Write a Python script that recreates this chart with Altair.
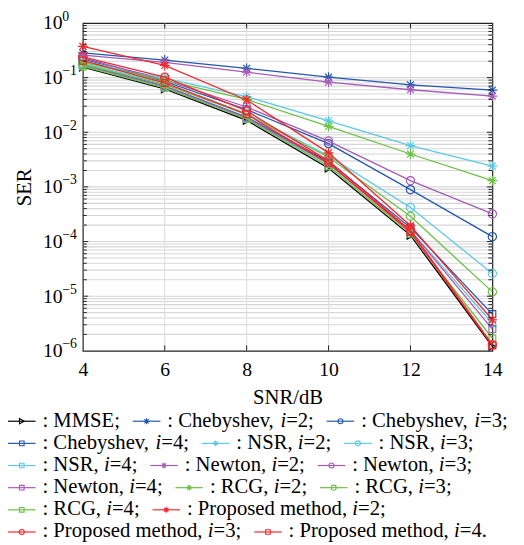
import altair as alt
import pandas as pd

# ---------------- data ----------------
snr = [4, 6, 8, 10, 12, 14]

methods = ["MMSE",
           "Chebyshev", "Chebyshev", "Chebyshev",
           "NSR", "NSR", "NSR",
           "Newton", "Newton", "Newton",
           "RCG", "RCG", "RCG",
           "Proposed method", "Proposed method", "Proposed method"]
iters = [0, 2, 3, 4, 2, 3, 4, 2, 3, 4, 2, 3, 4, 2, 3, 4]

ser_mmse    = [0.155, 0.062, 0.0165, 0.0022, 0.00013, 1.2e-6]
ser_cheb2   = [0.284, 0.21, 0.148, 0.102, 0.074, 0.059]
ser_cheb3   = [0.22, 0.085, 0.026, 0.0062, 0.00089, 0.000123]
ser_cheb4   = [0.175, 0.07, 0.019, 0.0029, 0.00018, 4.7e-6]
ser_nsr2    = [0.2, 0.098, 0.045, 0.0162, 0.0057, 0.0024]
ser_nsr3    = [0.18, 0.08, 0.022, 0.0037, 0.00042, 2.6e-5]
ser_nsr4    = [0.165, 0.068, 0.018, 0.0026, 0.00016, 3.2e-6]
ser_newton2 = [0.257, 0.19, 0.126, 0.083, 0.06, 0.046]
ser_newton3 = [0.23, 0.09, 0.029, 0.0069, 0.0013, 0.00032]
ser_newton4 = [0.17, 0.069, 0.0185, 0.0027, 0.00016, 2.5e-6]
ser_rcg2    = [0.19, 0.09, 0.04, 0.0128, 0.004, 0.0013]
ser_rcg3    = [0.175, 0.075, 0.021, 0.0035, 0.00029, 1.2e-5]
ser_rcg4    = [0.16, 0.065, 0.0175, 0.0024, 0.00014, 1.7e-6]
ser_prop2   = [0.374, 0.167, 0.039, 0.0042, 0.000195, 3.7e-6]
ser_prop3   = [0.241, 0.102, 0.0246, 0.003, 0.00016, 1.3e-6]
ser_prop4   = [0.204, 0.08, 0.0214, 0.0027, 0.00015, 1.25e-6]

series_values = [ser_mmse, ser_cheb2, ser_cheb3, ser_cheb4,
                 ser_nsr2, ser_nsr3, ser_nsr4,
                 ser_newton2, ser_newton3, ser_newton4,
                 ser_rcg2, ser_rcg3, ser_rcg4,
                 ser_prop2, ser_prop3, ser_prop4]

x_ticks = [4, 6, 8, 10, 12, 14]
y_decades = [1, 1e-1, 1e-2, 1e-3, 1e-4, 1e-5, 1e-6]
y_exponents = ["0", "\u22121", "\u22122", "\u22123", "\u22124", "\u22125", "\u22126"]

legend_rows = [[0, 1, 2], [3, 4, 5], [6, 7, 8], [9, 10, 11], [12, 13], [14, 15]]

# ---------------- styles ----------------
method_color = {"MMSE": "#000000", "Chebyshev": "#2457ad", "NSR": "#5ccae4",
                "Newton": "#a55cb6", "RCG": "#6bc046", "Proposed method": "#f2282c"}
STAR = "M-1,0L1,0M0,-1L0,1M-0.7,-0.7L0.7,0.7M-0.7,0.7L0.7,-0.7"
iter_shape = {0: "triangle-right", 2: STAR, 3: "circle", 4: "square"}
iter_size = {0: 60, 2: 100, 3: 70, 4: 48}
iter_lsize = {0: 30, 2: 36, 3: 26, 4: 22}

FONT = "Times New Roman"
W, H = 416, 333

xscale = alt.Scale(domain=[4, 14], nice=False, zero=False)
yscale = alt.Scale(type="log", domain=[1e-6, 1], nice=False)

# ---------------- grid & axes ----------------
minor_vals = [m * 10.0 ** k for k in range(-6, 0) for m in range(1, 10)]
grid_h_vals = [v for v in minor_vals if v > 1.5e-6]
minor_only = [m * 10.0 ** k for k in range(-6, 0) for m in range(2, 10)]

y_axis = alt.Axis(values=y_decades, labelExpr="'10'", labelPadding=21,
                  title="SER", titlePadding=8)
x_axis = alt.Axis(values=x_ticks, format="d", labelPadding=9, title="SNR/dB",
                  titlePadding=8)

grid_h = alt.Chart(pd.DataFrame({"v": grid_h_vals})).mark_rule(
    color="#d6d6d6", strokeWidth=1.1).encode(
    y=alt.Y("v:Q", scale=yscale, axis=y_axis),
    x=alt.value(0), x2=alt.value(W))

grid_v = alt.Chart(pd.DataFrame({"x": x_ticks[1:-1]})).mark_rule(
    color="#dedede", strokeWidth=1.1).encode(
    x=alt.X("x:Q", scale=xscale, axis=x_axis),
    y=alt.value(0), y2=alt.value(H))

exp_text = alt.Chart(pd.DataFrame({"v": y_decades, "e": y_exponents})).mark_text(
    align="left", baseline="alphabetic", font=FONT, fontSize=14, color="black",
    dy=-2.5).encode(
    y=alt.Y("v:Q", scale=yscale, axis=y_axis), x=alt.value(-21), text="e:N")

# ---------------- series ----------------
series_layers = []
for k, vals in enumerate(series_values):
    df = pd.DataFrame({"snr": snr, "ser": vals})
    col = method_color[methods[k]]
    base = alt.Chart(df).encode(
        x=alt.X("snr:Q", scale=xscale, axis=x_axis),
        y=alt.Y("ser:Q", scale=yscale, axis=y_axis))
    series_layers.append(base.mark_line(color=col, strokeWidth=1.3))
    series_layers.append(base.mark_point(shape=iter_shape[iters[k]],
                                         size=iter_size[iters[k]], filled=False,
                                         color=col, strokeWidth=1.2, opacity=1))

# ---------------- inward ticks ----------------
def yticks(vals, x_a, x_b):
    return alt.Chart(pd.DataFrame({"v": vals})).mark_rule(
        color="#222222", strokeWidth=1).encode(
        y=alt.Y("v:Q", scale=yscale, axis=y_axis), x=alt.value(x_a), x2=alt.value(x_b))

def xticks(vals, y_a, y_b):
    return alt.Chart(pd.DataFrame({"x": vals})).mark_rule(
        color="#222222", strokeWidth=1).encode(
        x=alt.X("x:Q", scale=xscale, axis=x_axis), y=alt.value(y_a), y2=alt.value(y_b))

tick_layers = [
    yticks(y_decades[1:-1], 0, 5.5), yticks(minor_only, 0, 4),
    yticks(y_decades[1:-1], W, W - 5.5), yticks(minor_only, W, W - 4),
    xticks(x_ticks[1:-1], H, H - 5.5), xticks(x_ticks[1:-1], 0, 5.5),
]

# ---------------- legend (laid out with Times metrics) ----------------
TW = {' ': 250, ':': 278, ';': 278, ',': 250, '.': 250, '=': 564,
      'A': 722, 'B': 667, 'C': 667, 'E': 611, 'G': 722, 'M': 889, 'N': 722,
      'P': 556, 'R': 667, 'S': 556, 'a': 444, 'b': 500, 'd': 500, 'e': 444,
      'h': 500, 'i': 278, 'm': 778, 'n': 500, 'o': 500, 'p': 500, 'r': 333,
      's': 389, 't': 278, 'v': 500, 'w': 722, 'y': 500}
LFS = 21

def tw(s):
    return sum(TW.get(ch, 500) for ch in s) * LFS / 1000.0

L_SYM, G_SYM, G_ITEM = 28, 7, 13
X0 = 8 - 84
Y0 = 429 - 19
DY = 22.5

sym_rows, txt_rows, ital_rows = [], [], []
for r, row in enumerate(legend_rows):
    by = Y0 + r * DY
    cx = X0
    for j, k in enumerate(row):
        last = (r == len(legend_rows) - 1 and j == len(row) - 1)
        end = "." if last else ";"
        sym_rows.append(dict(x1=cx, x2=cx + L_SYM, xm=cx + L_SYM / 2, y=by - 5.5,
                             color=method_color[methods[k]],
                             shape=iter_shape[iters[k]], size=iter_lsize[iters[k]]))
        tx = cx + L_SYM + G_SYM
        if iters[k] == 0:
            pre = ": " + methods[k] + end
            txt_rows.append(dict(x=tx, y=by, t=pre))
            cx = tx + tw(pre) + G_ITEM
        else:
            pre = ": " + methods[k] + ", "
            txt_rows.append(dict(x=tx, y=by, t=pre))
            ix = tx + tw(pre)
            ital_rows.append(dict(x=ix, y=by, t="i"))
            px = ix + tw("i")
            post = "=" + str(iters[k]) + end
            txt_rows.append(dict(x=px, y=by, t=post))
            cx = px + tw(post) + G_ITEM

sym_df = pd.DataFrame(sym_rows)
leg_lines = alt.Chart(sym_df).mark_rule(strokeWidth=1.2).encode(
    x=alt.X("x1:Q", scale=None, axis=None), x2="x2:Q",
    y=alt.Y("y:Q", scale=None, axis=None),
    color=alt.Color("color:N", scale=None))
leg_pts = alt.Chart(sym_df).mark_point(filled=False, strokeWidth=1.1, opacity=1).encode(
    x=alt.X("xm:Q", scale=None, axis=None),
    y=alt.Y("y:Q", scale=None, axis=None),
    color=alt.Color("color:N", scale=None),
    shape=alt.Shape("shape:N", scale=None),
    size=alt.Size("size:Q", scale=None))
leg_txt = alt.Chart(pd.DataFrame(txt_rows)).mark_text(
    align="left", baseline="alphabetic", font=FONT, fontSize=LFS, color="black").encode(
    x=alt.X("x:Q", scale=None, axis=None), y=alt.Y("y:Q", scale=None, axis=None),
    text="t:N")
leg_ital = alt.Chart(pd.DataFrame(ital_rows)).mark_text(
    align="left", baseline="alphabetic", font=FONT, fontSize=LFS,
    fontStyle="italic", color="black").encode(
    x=alt.X("x:Q", scale=None, axis=None), y=alt.Y("y:Q", scale=None, axis=None),
    text="t:N")

chart = alt.layer(grid_h, grid_v, *series_layers, *tick_layers, exp_text,
                  leg_lines, leg_pts, leg_txt, leg_ital).properties(
    width=W, height=H,
    padding={"left": 76, "top": 11, "right": 24, "bottom": 193},
    autosize=alt.AutoSizeParams(type="none"),
    background="white").configure_view(
    stroke="#222222", strokeWidth=1.2).configure_axis(
    grid=False, ticks=False, domain=False, labelFont=FONT, labelFontSize=20,
    labelColor="black", titleFont=FONT, titleFontSize=21,
    titleFontWeight="normal", titleColor="black", labelFlush=False)

chart.save("out.html", embed_options={"renderer": "svg", "actions": False})
